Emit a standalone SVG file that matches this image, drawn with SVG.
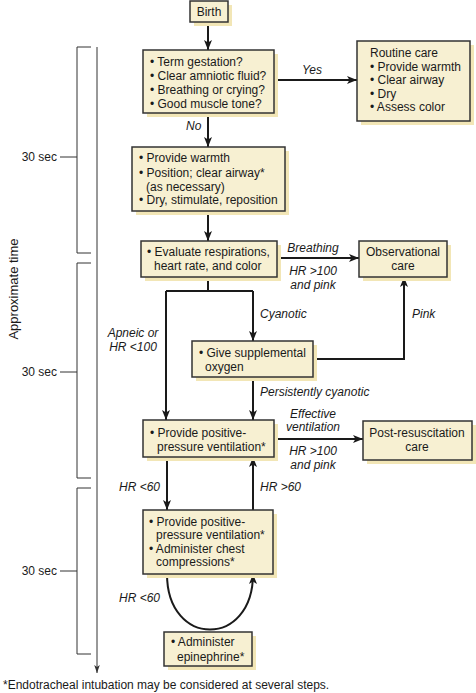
<svg xmlns="http://www.w3.org/2000/svg" width="476" height="693" viewBox="0 0 476 693">
<style>
text{font-family:"Liberation Sans",Arial,sans-serif;font-size:12px;fill:#1a1a1a}
.i{font-style:italic}
.c{text-anchor:middle}
.e{text-anchor:end}
.box{fill:#f7f0d2;stroke:#333;stroke-width:1.5}
.sh{fill:#f2e6b6}
.ln{fill:none;stroke:#1a1a1a;stroke-width:2}
.ax{fill:none;stroke:#333;stroke-width:1}
</style>
<defs>
<marker id="ah" markerUnits="userSpaceOnUse" markerWidth="10" markerHeight="10" viewBox="0 0 10 10" refX="10" refY="5" orient="auto">
<path d="M0,1 L10,5 L0,9 L2.5,5 z" fill="#1a1a1a"/>
</marker>
<marker id="ah2" markerUnits="userSpaceOnUse" markerWidth="8" markerHeight="8" viewBox="0 0 10 10" refX="10" refY="5" orient="auto">
<path d="M0,1.5 L10,5 L0,8.5 L2.5,5 z" fill="#333"/>
</marker>
</defs>

<g id="timeline">
<line class="ax" x1="97" y1="47" x2="97" y2="673" marker-end="url(#ah2)"/>
<path class="ax" d="M91,47 H77 V253 H91 M77,157 H60"/>
<path class="ax" d="M91,263 H77 V478 H91 M77,372 H60"/>
<path class="ax" d="M91,488 H77 V654 H91 M77,571 H60"/>
<text x="57" y="161" class="e">30 sec</text>
<text x="57" y="376" class="e">30 sec</text>
<text x="57" y="575" class="e">30 sec</text>
<text transform="translate(18,289) rotate(-90)" class="c" style="font-size:13px">Approximate time</text>
</g>

<g id="connectors">
<line class="ln" x1="208" y1="23" x2="208" y2="50" marker-end="url(#ah)"/>
<line class="ln" x1="274" y1="80" x2="357" y2="80" marker-end="url(#ah)"/>
<line class="ln" x1="208" y1="113" x2="208" y2="147" marker-end="url(#ah)"/>
<line class="ln" x1="208" y1="211" x2="208" y2="241" marker-end="url(#ah)"/>
<line class="ln" x1="277" y1="258" x2="359" y2="258" marker-end="url(#ah)"/>
<path class="ln" d="M208,277 V291"/>
<path class="ln" d="M166,291 H253"/>
<path class="ln" d="M166,291 V420" marker-end="url(#ah)"/>
<path class="ln" d="M253,291 V341" marker-end="url(#ah)"/>
<path class="ln" d="M313,359 H404 V277" marker-end="url(#ah)"/>
<line class="ln" x1="253" y1="377" x2="253" y2="420" marker-end="url(#ah)"/>
<line class="ln" x1="274" y1="439" x2="363" y2="439" marker-end="url(#ah)"/>
<line class="ln" x1="167" y1="457" x2="167" y2="510" marker-end="url(#ah)"/>
<line class="ln" x1="253" y1="510" x2="253" y2="457" marker-end="url(#ah)"/>
<path class="ln" d="M167,574 C167,648 253,648 253,574" marker-end="url(#ah)"/>
<text x="312" y="74" class="i c">Yes</text>
<text x="186" y="130" class="i">No</text>
<text x="313" y="252" class="i c">Breathing</text>
<text x="313" y="275" class="i c">HR &gt;100</text>
<text x="313" y="289" class="i c">and pink</text>
<text x="260" y="318" class="i">Cyanotic</text>
<text x="412" y="318" class="i">Pink</text>
<text x="133" y="337" class="i c">Apneic or</text>
<text x="133" y="351" class="i c">HR &lt;100</text>
<text x="260" y="396" class="i">Persistently cyanotic</text>
<text x="313" y="418" class="i c">Effective</text>
<text x="313" y="431" class="i c">ventilation</text>
<text x="313" y="455" class="i c">HR &gt;100</text>
<text x="313" y="469" class="i c">and pink</text>
<text x="160" y="491" class="i e">HR &lt;60</text>
<text x="260" y="491" class="i">HR &gt;60</text>
<text x="160" y="602" class="i e">HR &lt;60</text>
</g>

<g id="birth">
<rect class="sh" x="194" y="5" width="38" height="21"/>
<rect class="box" x="190" y="1" width="38" height="21"/>
<text x="209" y="16" class="c">Birth</text>
</g>

<g id="assess">
<rect class="sh" x="147" y="54" width="131" height="63"/>
<rect class="box" x="143" y="50" width="131" height="63"/>
<text x="150" y="66">• Term gestation?</text>
<text x="150" y="80">• Clear amniotic fluid?</text>
<text x="150" y="94">• Breathing or crying?</text>
<text x="150" y="108">• Good muscle tone?</text>
</g>

<g id="routine">
<rect class="sh" x="361" y="45" width="113" height="80"/>
<rect class="box" x="357" y="41" width="113" height="80"/>
<text x="370" y="57">Routine care</text>
<text x="370" y="71">• Provide warmth</text>
<text x="370" y="84">• Clear airway</text>
<text x="370" y="98">• Dry</text>
<text x="370" y="111">• Assess color</text>
</g>

<g id="initial">
<rect class="sh" x="136" y="151" width="153" height="64"/>
<rect class="box" x="132" y="147" width="153" height="64"/>
<text x="139" y="162">• Provide warmth</text>
<text x="139" y="177">• Position; clear airway*</text>
<text x="146" y="191">(as necessary)</text>
<text x="139" y="204">• Dry, stimulate, reposition</text>
</g>

<g id="evaluate">
<rect class="sh" x="145" y="245" width="136" height="36"/>
<rect class="box" x="141" y="241" width="136" height="36"/>
<text x="147" y="256">• Evaluate respirations,</text>
<text x="154" y="270">heart rate, and color</text>
</g>

<g id="observational">
<rect class="sh" x="363" y="245" width="88" height="36"/>
<rect class="box" x="359" y="241" width="88" height="36"/>
<text x="403" y="256" class="c">Observational</text>
<text x="403" y="270" class="c">care</text>
</g>

<g id="oxygen">
<rect class="sh" x="196" y="345" width="121" height="36"/>
<rect class="box" x="192" y="341" width="121" height="36"/>
<text x="199" y="357">• Give supplemental</text>
<text x="205" y="371">oxygen</text>
</g>

<g id="ppv">
<rect class="sh" x="147" y="424" width="131" height="37"/>
<rect class="box" x="143" y="420" width="131" height="37"/>
<text x="150" y="437">• Provide positive-</text>
<text x="157" y="451">pressure ventilation*</text>
</g>

<g id="postresus">
<rect class="sh" x="367" y="425" width="109" height="39"/>
<rect class="box" x="363" y="421" width="109" height="39"/>
<text x="417" y="437" class="c">Post-resuscitation</text>
<text x="417" y="451" class="c">care</text>
</g>

<g id="compressions">
<rect class="sh" x="147" y="514" width="130" height="64"/>
<rect class="box" x="143" y="510" width="130" height="64"/>
<text x="149" y="526">• Provide positive-</text>
<text x="156" y="539">pressure ventilation*</text>
<text x="149" y="553">• Administer chest</text>
<text x="156" y="566">compressions*</text>
</g>

<g id="epinephrine">
<rect class="sh" x="168" y="636" width="88" height="34"/>
<rect class="box" x="164" y="632" width="88" height="34"/>
<text x="171" y="646">• Administer</text>
<text x="177" y="661">epinephrine*</text>
</g>

<text x="3" y="689">*Endotracheal intubation may be considered at several steps.</text>
</svg>
